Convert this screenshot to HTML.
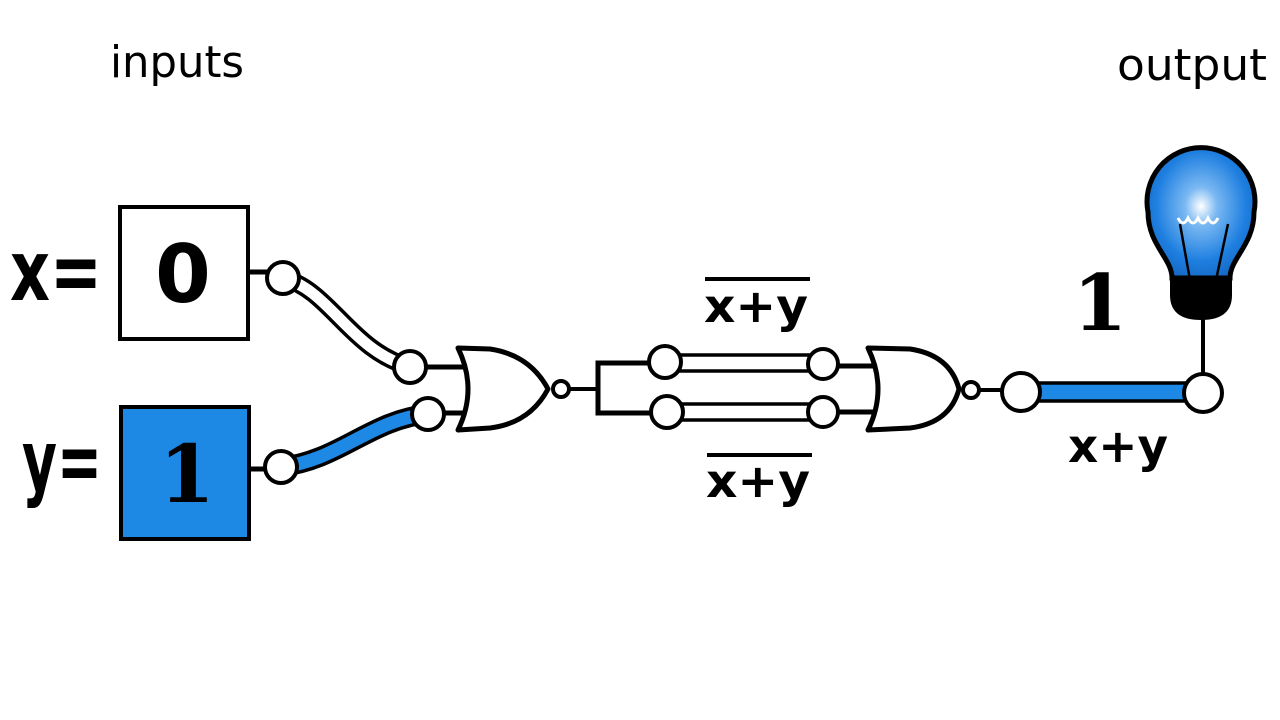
<!DOCTYPE html>
<html><head><meta charset="utf-8"><style>html,body{margin:0;padding:0;background:#fff;width:1280px;height:720px;overflow:hidden}</style></head>
<body>
<svg width="1280" height="720" viewBox="0 0 1280 720" xmlns="http://www.w3.org/2000/svg">
<defs>
<radialGradient id="bulb" cx="0.5" cy="0.45" r="0.6">
<stop offset="0" stop-color="#ffffff"/><stop offset="0.25" stop-color="#7ab8f2"/><stop offset="0.7" stop-color="#1e7fe0"/><stop offset="1" stop-color="#1565c0"/>
</radialGradient>
</defs>
<g font-family="'DejaVu Sans','Liberation Sans',sans-serif" fill="#000">
<text x="110" y="77" font-size="44" textLength="134" lengthAdjust="spacingAndGlyphs">inputs</text>
<text x="1117" y="80" font-size="44" textLength="150" lengthAdjust="spacingAndGlyphs">output</text>
<text x="10" y="300" font-size="84" font-weight="bold" textLength="92" lengthAdjust="spacingAndGlyphs">x=</text>
<text x="22" y="490" font-size="84" font-weight="bold" textLength="80" lengthAdjust="spacingAndGlyphs">y=</text>
<text x="704" y="322" font-size="46" font-weight="bold" textLength="104" lengthAdjust="spacingAndGlyphs">x+y</text>
<line x1="705" y1="279" x2="810" y2="279" stroke="#000" stroke-width="4"/>
<text x="706" y="497" font-size="46" font-weight="bold" textLength="104" lengthAdjust="spacingAndGlyphs">x+y</text>
<line x1="707" y1="455" x2="812" y2="455" stroke="#000" stroke-width="4"/>
<text x="1068" y="462" font-size="46" font-weight="bold" textLength="100" lengthAdjust="spacingAndGlyphs">x+y</text>
</g>
<rect x="120" y="207" width="128" height="132" fill="#fff" stroke="#000" stroke-width="4"/>
<text x="183" y="302" font-family="'DejaVu Sans','Liberation Sans',sans-serif" font-weight="bold" font-size="80" text-anchor="middle">0</text>
<rect x="121" y="407" width="128" height="132" fill="#1e88e5" stroke="#000" stroke-width="4"/>
<text x="187" y="502" font-family="'DejaVu Serif','Liberation Serif',serif" font-weight="bold" font-size="80" text-anchor="middle">1</text>
<text x="1100" y="330" font-family="'DejaVu Serif','Liberation Serif',serif" font-weight="bold" font-size="78" text-anchor="middle">1</text>
<line x1="248" y1="272" x2="270" y2="272" stroke="#000" stroke-width="5"/>
<line x1="249" y1="469" x2="268" y2="469" stroke="#000" stroke-width="5"/>
<path d="M283,278 C330,290 350,350 410,367" fill="none" stroke="#000" stroke-width="18"/>
<path d="M283,278 C330,290 350,350 410,367" fill="none" stroke="#fff" stroke-width="11"/>
<path d="M281,467 C340,460 370,420 428,414" fill="none" stroke="#000" stroke-width="20"/>
<path d="M281,467 C340,460 370,420 428,414" fill="none" stroke="#1e88e5" stroke-width="13"/>
<line x1="425" y1="367" x2="470" y2="367" stroke="#000" stroke-width="5"/>
<line x1="440" y1="413" x2="470" y2="413" stroke="#000" stroke-width="5"/>
<g fill="#fff" stroke="#000" stroke-width="4">
<circle cx="283" cy="278" r="16"/><circle cx="281" cy="467" r="16"/>
<circle cx="410" cy="367" r="16"/><circle cx="428" cy="414" r="16"/>
</g>
<path d="M458,348 L490,349 Q530,355 548,389 Q530,423 490,428 L458,430 Q478,389 458,348 Z" fill="#fff" stroke="#000" stroke-width="5" stroke-linejoin="round"/>
<circle cx="561" cy="389" r="8" fill="#fff" stroke="#000" stroke-width="4"/>
<line x1="569" y1="389" x2="598" y2="389" stroke="#000" stroke-width="4"/>
<path d="M650,363 L598,363 L598,413 L650,413" fill="none" stroke="#000" stroke-width="5"/>
<rect x="665" y="355" width="158" height="16" fill="#fff" stroke="#000" stroke-width="3.5"/>
<rect x="667" y="404" width="156" height="16" fill="#fff" stroke="#000" stroke-width="3.5"/>
<line x1="838" y1="366" x2="880" y2="366" stroke="#000" stroke-width="5"/>
<line x1="838" y1="412" x2="880" y2="412" stroke="#000" stroke-width="5"/>
<g fill="#fff" stroke="#000" stroke-width="4">
<circle cx="665" cy="362" r="16"/><circle cx="667" cy="412" r="16"/>
<circle cx="823" cy="364" r="15"/><circle cx="823" cy="412" r="15"/>
</g>
<path d="M868,348 L910,349 Q950,355 959,389 Q950,423 910,428 L868,430 Q888,389 868,348 Z" fill="#fff" stroke="#000" stroke-width="5" stroke-linejoin="round"/>
<circle cx="971" cy="390" r="8" fill="#fff" stroke="#000" stroke-width="4"/>
<line x1="979" y1="390" x2="1005" y2="390" stroke="#000" stroke-width="4"/>
<rect x="1030" y="383" width="160" height="18" fill="#1e88e5" stroke="#000" stroke-width="3.5"/>
<line x1="1203" y1="310" x2="1203" y2="375" stroke="#000" stroke-width="4"/>
<circle cx="1021" cy="392" r="19" fill="#fff" stroke="#000" stroke-width="4"/>
<circle cx="1203" cy="393" r="19" fill="#fff" stroke="#000" stroke-width="4"/>
<path d="M1172,278 C1172,258 1148,245 1148,212 A54,54 0 1 1 1254,212 C1254,245 1230,258 1230,278 Z" fill="url(#bulb)" stroke="#000" stroke-width="5"/>
<path d="M1170,280 L1232,280 L1232,295 Q1232,320 1201,320 Q1170,320 1170,295 Z" fill="#000"/>
<path d="M1178,218 q5,10 10,0 q5,10 10,0 q5,10 10,0 q5,10 10,0" fill="none" stroke="#fff" stroke-width="3"/>
<path d="M1180,224 L1190,280 M1228,224 L1216,280" stroke="#000" stroke-width="2.5" fill="none"/>
</svg>
</body></html>
